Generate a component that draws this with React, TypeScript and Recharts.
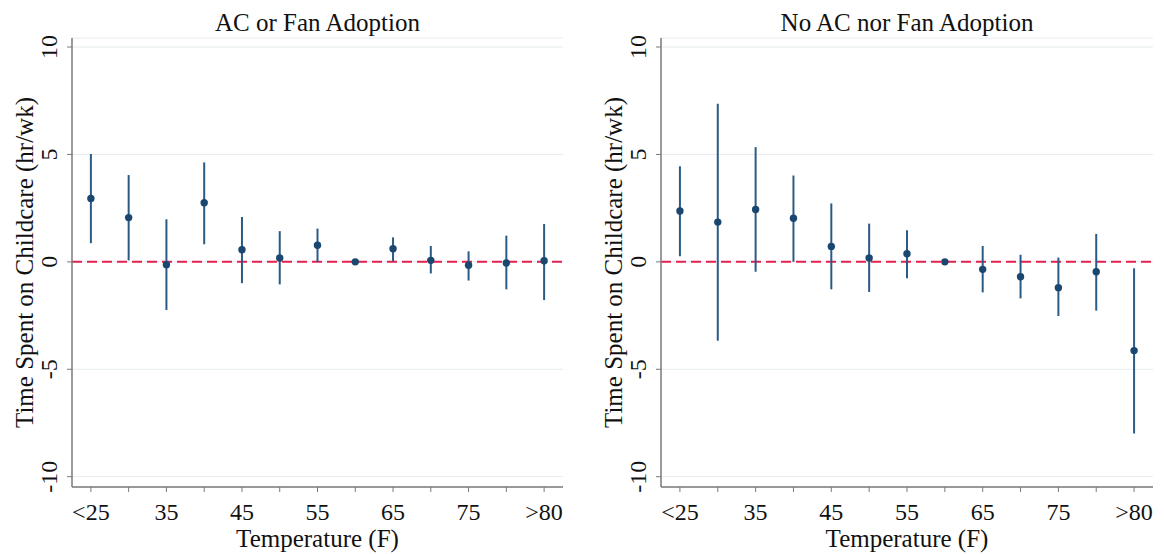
import React from 'react';
import {
  ComposedChart,
  Scatter,
  ErrorBar,
  XAxis,
  YAxis,
  CartesianGrid,
  ReferenceLine,
  Label,
} from 'recharts';

const categories = ['<25', '30', '35', '40', '45', '50', '55', '60', '65', '70', '75', '80', '>80'];

// AC or Fan Adoption
const acCoef = [2.95, 2.06, -0.13, 2.75, 0.56, 0.18, 0.77, 0, 0.61, 0.07, -0.16, -0.05, 0.05];
const acLow = [0.87, 0.07, -2.24, 0.82, -0.99, -1.05, 0.0, 0, 0.03, -0.54, -0.87, -1.28, -1.78];
const acHigh = [5.02, 4.04, 1.98, 4.63, 2.09, 1.43, 1.55, 0, 1.14, 0.74, 0.49, 1.22, 1.76];

// No AC nor Fan Adoption
const noCoef = [2.37, 1.85, 2.44, 2.03, 0.72, 0.18, 0.38, 0, -0.35, -0.69, -1.2, -0.46, -4.13];
const noLow = [0.26, -3.67, -0.46, 0.0, -1.28, -1.4, -0.76, 0, -1.42, -1.7, -2.52, -2.27, -7.99];
const noHigh = [4.45, 7.36, 5.34, 4.02, 2.72, 1.78, 1.47, 0, 0.74, 0.33, 0.2, 1.3, -0.3];

const yTicks = [-10, -5, 0, 5, 10];
const xTicks = categories.map((_, i) => i);

const FONT = '"Liberation Serif", "Times New Roman", serif';
const TEXT = '#111';
const AXIS = '#7a7a7a';
const NAVY = '#1a476f';
const CI = '#2a5a86';

const buildRows = (coef: number[], low: number[], high: number[]) =>
  coef.map((c, i) => ({ idx: i, coef: c, err: [c - low[i], high[i] - c] }));

interface PanelProps {
  title: string;
  rows: { idx: number; coef: number; err: number[] }[];
  left: number;
  width: number;
  marginRight: number;
}

const XTick = (props: any) => {
  const { x, y, payload } = props;
  const i = payload.value;
  if (i % 2 !== 0) return null;
  return (
    <text x={x} y={y + 28} textAnchor="middle" fontFamily={FONT} fontSize={24} fill={TEXT}>
      {categories[i]}
    </text>
  );
};

const YTick = (props: any) => {
  const { x, y, payload } = props;
  const bx = x - 10;
  return (
    <text
      x={bx}
      y={y}
      textAnchor="middle"
      transform={`rotate(-90, ${bx}, ${y})`}
      fontFamily={FONT}
      fontSize={24}
      fill={TEXT}
    >
      {payload.value}
    </text>
  );
};

const Panel: React.FC<PanelProps> = ({ title, rows, left, width, marginRight }) => (
  <div style={{ position: 'absolute', left, top: 0 }}>
    <ComposedChart
      width={width}
      height={554}
      data={rows}
      margin={{ top: 38, right: marginRight, bottom: 0, left: 0 }}
    >
      <CartesianGrid horizontal vertical={false} stroke="#e6ecef" strokeWidth={1} />
      <XAxis
        dataKey="idx"
        type="number"
        domain={[-0.5, 12.5]}
        ticks={xTicks}
        interval={0}
        height={67}
        tickSize={5}
        tickMargin={0}
        tick={<XTick />}
        axisLine={{ stroke: AXIS, strokeWidth: 1.5 }}
        tickLine={{ stroke: AXIS, strokeWidth: 1 }}
      >
        <Label
          content={(p: any) => {
            const vb = p.viewBox;
            const cx = vb.x + vb.width / 2;
            return (
              <g fontFamily={FONT} fill={TEXT}>
                <text x={cx} y={547} textAnchor="middle" fontSize={25} fill={TEXT}>
                  Temperature (F)
                </text>
                <text x={cx} y={31} textAnchor="middle" fontSize={25} fill={TEXT}>
                  {title}
                </text>
              </g>
            );
          }}
        />
      </XAxis>
      <YAxis
        type="number"
        domain={[-10.48, 10.42]}
        ticks={yTicks}
        interval={0}
        width={72}
        tickSize={5}
        tickMargin={0}
        tick={<YTick />}
        axisLine={{ stroke: AXIS, strokeWidth: 1.5 }}
        tickLine={{ stroke: AXIS, strokeWidth: 1 }}
      >
        <Label
          content={(p: any) => {
            const vb = p.viewBox;
            const bx = vb.x + vb.width - 39;
            const cy = vb.y + vb.height / 2;
            return (
              <text
                x={bx}
                y={cy}
                textAnchor="middle"
                transform={`rotate(-90, ${bx}, ${cy})`}
                fontFamily={FONT}
                fontSize={25}
                fill={TEXT}
              >
                Time Spent on Childcare (hr/wk)
              </text>
            );
          }}
        />
      </YAxis>
      <ReferenceLine y={0} stroke="#e3204e" strokeWidth={2} strokeDasharray="10 5" />
      <Scatter
        dataKey="coef"
        isAnimationActive={false}
        fill={NAVY}
        shape={(p: any) => <circle cx={p.cx} cy={p.cy} r={3.7} fill={NAVY} />}
      >
        <ErrorBar dataKey="err" direction="y" width={0} stroke={CI} strokeWidth={2} />
      </Scatter>
    </ComposedChart>
  </div>
);

const App: React.FC = () => {
  const acRows = buildRows(acCoef, acLow, acHigh);
  const noRows = buildRows(noCoef, noLow, noHigh);
  return (
    <div
      style={{
        position: 'absolute',
        left: 0,
        top: 0,
        width: 1164,
        height: 554,
        background: '#fff',
        overflow: 'hidden',
      }}
    >
      <Panel title="AC or Fan Adoption" rows={acRows} left={0} width={580} marginRight={17} />
      <Panel title="No AC nor Fan Adoption" rows={noRows} left={589} width={575} marginRight={11} />
    </div>
  );
};

export default App;
